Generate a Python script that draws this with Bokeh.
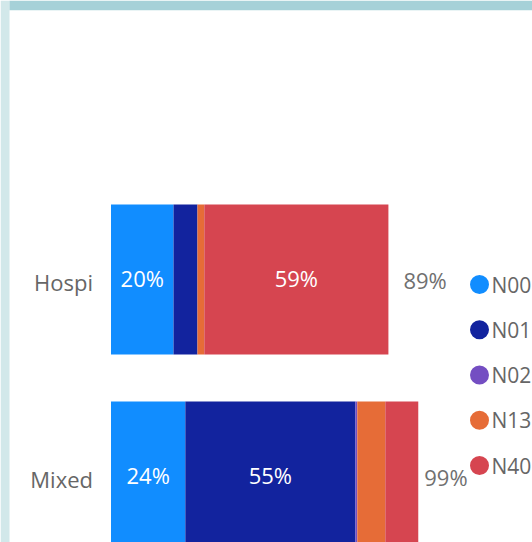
from bokeh.plotting import figure
from bokeh.models import ColumnDataSource, Range1d, GlobalInlineStyleSheet, BoxAnnotation
from bokeh.core.properties import value
from bokeh.embed import file_html
from bokeh.resources import INLINE

# ---- data ----
categories = ["Hospi", "Mixed"]
series = ["N00", "N01", "N02", "N13", "N40"]
N00 = [20.1, 23.9]
N01 = [7.7, 54.7]
N02 = [0.0, 0.6]
N13 = [2.2, 9.0]
N40 = [59.2, 10.6]
colors = ["#118DFF", "#12239E", "#744EC2", "#E66C37", "#D64550"]

W, H = 532, 542
FONT = value("Open Sans")
FS = "22px"

values = {"N00": N00, "N01": N01, "N02": N02, "N13": N13, "N40": N40}
n = len(categories)
ypos = [n - 1 - i for i in range(n)]  # first category on top

src = ColumnDataSource(dict(y=ypos, cat=categories, **values))

p = figure(width=W, height=H, output_backend="svg", toolbar_location=None,
           x_range=Range1d(-35.53, 135.53), y_range=Range1d(-0.335, 2.416),
           x_axis_location=None, y_axis_location=None,
           min_border=0, min_border_left=0, min_border_right=0,
           min_border_top=0, min_border_bottom=0)
p.stylesheets = [GlobalInlineStyleSheet(css="html, body {margin:0 !important; padding:0; overflow:hidden; background:white;}")]
p.extra_x_ranges = {"px": Range1d(0, W)}
p.extra_y_ranges = {"px": Range1d(H, 0)}
p.xgrid.visible = False
p.ygrid.visible = False
p.outline_line_color = None
p.background_fill_color = "white"
p.border_fill_color = "white"

# decorative strips of the surrounding page (screen y counted from the bottom)
p.add_layout(BoxAnnotation(left=0, right=9, left_units="screen", right_units="screen",
                           fill_color="#D2E8EA", fill_alpha=1, line_color=None, level="underlay"))
p.add_layout(BoxAnnotation(left=9, left_units="screen", top=H, bottom=H - 9.7,
                           top_units="screen", bottom_units="screen",
                           fill_color="#A6D1D8", fill_alpha=1, line_color=None, level="underlay"))

p.hbar_stack(series, y="y", height=0.761, color=colors, line_color=None, source=src)

# inner data labels
lx, ly, lt = [], [], []
for i in range(n):
    start = 0.0
    for s in series:
        v = values[s][i]
        if v >= 15:
            lx.append(start + v / 2)
            ly.append(ypos[i])
            lt.append(f"{round(v)}%")
        start += v
p.text(x="x", y="y", text="t", source=ColumnDataSource(dict(x=lx, y=ly, t=lt)),
       text_font=FONT, text_font_size=FS, text_color="white", y_offset=-1,
       text_align="center", text_baseline="middle")

# totals
totals = [sum(values[s][i] for s in series) for i in range(n)]
total_dx = [15, 6]
p.text(x="x", y="y", text="t", x_offset="dx", y_offset=1,
       source=ColumnDataSource(dict(x=totals, y=ypos, t=[f"{round(t)}%" for t in totals], dx=total_dx)),
       text_font=FONT, text_font_size=FS, text_color="#707070",
       text_align="left", text_baseline="middle")

# category labels
p.text(x=0, y="y", text="cat", source=src, x_offset=-18, y_offset=3,
       text_font=FONT, text_font_size=FS, text_color="#666666",
       text_align="right", text_baseline="middle")

# legend (pixel space)
leg_x, leg_y0, leg_dy = 479, 284, 45.25
leg_src = ColumnDataSource(dict(x=[leg_x] * len(series),
                                y=[leg_y0 + leg_dy * i for i in range(len(series))],
                                t=series, c=colors))
p.scatter(x="x", y="y", size=19, marker="circle", fill_color="c", line_color=None,
          source=leg_src, x_range_name="px", y_range_name="px")
p.text(x="x", y="y", text="t", x_offset=12, source=leg_src,
       text_font=FONT, text_font_size="21px", text_color="#666666",
       text_align="left", text_baseline="middle",
       x_range_name="px", y_range_name="px")

open("out.html", "w").write(file_html(p, INLINE))
